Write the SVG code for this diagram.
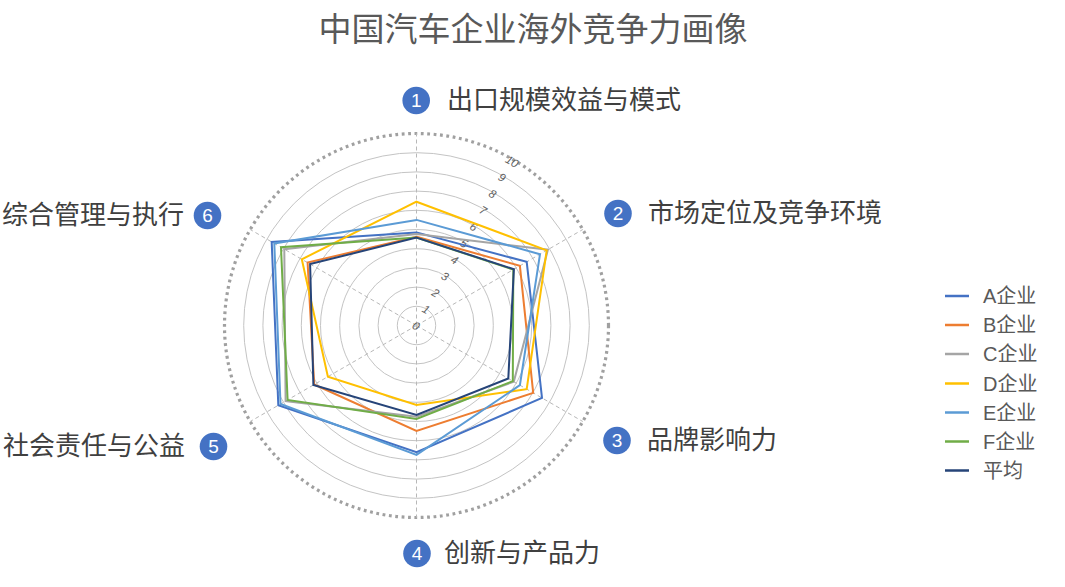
<svg xmlns="http://www.w3.org/2000/svg" width="1065" height="587" viewBox="0 0 1065 587">
<style>
.ring{fill:none;stroke:#c4c4c4;stroke-width:1}
.outer{fill:none;stroke:#a0a0a0;stroke-width:3.2;stroke-dasharray:2.8 3.6}
.axis{stroke:#b8b8b8;stroke-width:1;stroke-dasharray:4 3}
.tick{font-family:"Liberation Sans",sans-serif;font-size:11.5px;font-style:italic;fill:#606060;text-anchor:middle;dominant-baseline:central}
.s{fill:none;stroke-width:2;stroke-linejoin:miter}
.title{font-family:"Noto Sans CJK SC",sans-serif;font-size:33px;fill:#595959;text-anchor:middle}
.cat{font-family:"Noto Sans CJK SC",sans-serif;font-size:26px;fill:#404040}
.badge{fill:#4472c4}
.num{font-family:"Liberation Sans",sans-serif;font-size:19px;fill:#ffffff;text-anchor:middle}
.leg{font-family:"Liberation Sans","Noto Sans CJK SC",sans-serif;font-size:20px;fill:#595959}
.ll{stroke-width:2.5}
</style>
<rect width="1065" height="587" fill="#ffffff"/>
<text class="title" x="533" y="41">中国汽车企业海外竞争力画像</text>
<g id="grid">
<circle class="ring" cx="416.5" cy="325.5" r="19.2"/>
<circle class="ring" cx="416.5" cy="325.5" r="38.4"/>
<circle class="ring" cx="416.5" cy="325.5" r="57.6"/>
<circle class="ring" cx="416.5" cy="325.5" r="76.8"/>
<circle class="ring" cx="416.5" cy="325.5" r="96"/>
<circle class="ring" cx="416.5" cy="325.5" r="115.2"/>
<circle class="ring" cx="416.5" cy="325.5" r="134.4"/>
<circle class="ring" cx="416.5" cy="325.5" r="153.6"/>
<circle class="ring" cx="416.5" cy="325.5" r="172.8"/>
<circle class="outer" cx="416.5" cy="325.5" r="192"/>
<line class="axis" x1="416.5" y1="325.5" x2="416.5" y2="133.5"/>
<line class="axis" x1="416.5" y1="325.5" x2="582.8" y2="229.5"/>
<line class="axis" x1="416.5" y1="325.5" x2="582.8" y2="421.5"/>
<line class="axis" x1="416.5" y1="325.5" x2="416.5" y2="517.5"/>
<line class="axis" x1="416.5" y1="325.5" x2="250.2" y2="421.5"/>
<line class="axis" x1="416.5" y1="325.5" x2="250.2" y2="229.5"/>
</g>
<g id="ticks">
<text class="tick" transform="translate(416,326) rotate(30)">0</text>
<text class="tick" transform="translate(426,309.5) rotate(30)">1</text>
<text class="tick" transform="translate(435.5,293) rotate(30)">2</text>
<text class="tick" transform="translate(445,276.5) rotate(30)">3</text>
<text class="tick" transform="translate(454.5,260) rotate(30)">4</text>
<text class="tick" transform="translate(464,243.5) rotate(30)">5</text>
<text class="tick" transform="translate(473.5,227) rotate(30)">6</text>
<text class="tick" transform="translate(483,210.5) rotate(30)">7</text>
<text class="tick" transform="translate(492.5,194) rotate(30)">8</text>
<text class="tick" transform="translate(502,177.5) rotate(30)">9</text>
<text class="tick" transform="translate(512,161.5) rotate(30)">10</text>
</g>
<g id="series">
<polygon id="sA" class="s" stroke="#4472c4" points="416.5,232.4 526.7,261.9 542.0,398.0 416.5,452.2 278.3,405.3 271.7,241.9"/>
<polygon id="sB" class="s" stroke="#ed7d31" points="416.5,236.8 519.9,265.8 533.2,392.9 416.5,430.9 314.2,384.5 307.6,262.6"/>
<polygon id="sC" class="s" stroke="#a5a5a5" points="416.5,233.9 547.9,249.7 513.8,381.7 416.5,416.7 285.6,401.1 284.3,249.2"/>
<polygon id="sD" class="s" stroke="#ffc000" points="416.5,201.7 546.7,250.3 526.7,389.2 416.5,405.0 327.9,376.7 301.8,259.3"/>
<polygon id="sE" class="s" stroke="#5b9bd5" points="416.5,219.9 540.0,254.2 519.9,385.2 416.5,454.9 280.5,404.0 274.3,243.4"/>
<polygon id="sF" class="s" stroke="#70ad47" points="416.5,237.6 513.3,269.6 512.8,381.1 416.5,419.0 287.6,399.9 281.0,247.3"/>
<polygon id="sAvg" class="s" stroke="#264478" points="416.5,237.6 513.9,269.2 508.3,378.5 416.5,415.0 313.4,385.0 310.1,264.1"/>
</g>
<g id="cat1">
<circle class="badge" cx="416.2" cy="100.5" r="13.8"/>
<text class="num" x="416.2" y="107.3">1</text>
<text class="cat" x="447" y="109">出口规模效益与模式</text>
</g>
<g id="cat2">
<circle class="badge" cx="618" cy="213.5" r="13.8"/>
<text class="num" x="618" y="220.3">2</text>
<text class="cat" x="648" y="222">市场定位及竞争环境</text>
</g>
<g id="cat3">
<circle class="badge" cx="617" cy="440.5" r="13.8"/>
<text class="num" x="617" y="447.3">3</text>
<text class="cat" x="647" y="449">品牌影响力</text>
</g>
<g id="cat4">
<circle class="badge" cx="417" cy="553.5" r="13.8"/>
<text class="num" x="417" y="560.3">4</text>
<text class="cat" x="444" y="562">创新与产品力</text>
</g>
<g id="cat5">
<circle class="badge" cx="213.5" cy="446.5" r="13.8"/>
<text class="num" x="213.5" y="453.3">5</text>
<text class="cat" x="185" y="455" text-anchor="end">社会责任与公益</text>
</g>
<g id="cat6">
<circle class="badge" cx="207.5" cy="215.5" r="13.8"/>
<text class="num" x="207.5" y="222.3">6</text>
<text class="cat" x="184" y="224" text-anchor="end">综合管理与执行</text>
</g>
<g id="legend">
<line class="ll" x1="945" y1="296" x2="969" y2="296" stroke="#4472c4"/>
<text class="leg" x="983" y="303">A企业</text>
<line class="ll" x1="945" y1="325" x2="969" y2="325" stroke="#ed7d31"/>
<text class="leg" x="983" y="332">B企业</text>
<line class="ll" x1="945" y1="354" x2="969" y2="354" stroke="#a5a5a5"/>
<text class="leg" x="983" y="361">C企业</text>
<line class="ll" x1="945" y1="383.5" x2="969" y2="383.5" stroke="#ffc000"/>
<text class="leg" x="983" y="390.5">D企业</text>
<line class="ll" x1="945" y1="412.5" x2="969" y2="412.5" stroke="#5b9bd5"/>
<text class="leg" x="983" y="419.5">E企业</text>
<line class="ll" x1="945" y1="441.5" x2="969" y2="441.5" stroke="#70ad47"/>
<text class="leg" x="983" y="448.5">F企业</text>
<line class="ll" x1="945" y1="470.5" x2="969" y2="470.5" stroke="#264478"/>
<text class="leg" x="983" y="477.5">平均</text>
</g>
</svg>
